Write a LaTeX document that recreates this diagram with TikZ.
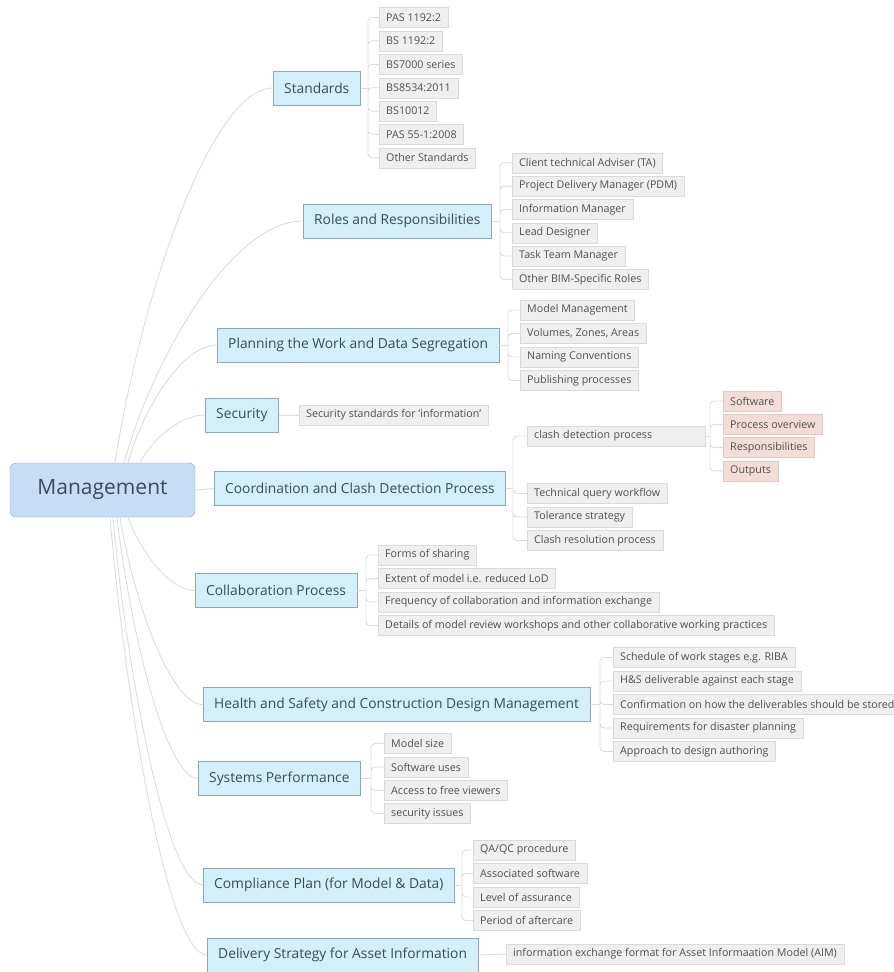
\documentclass[tikz,border=0pt]{standalone}
\usepackage{fontspec}
\setmainfont{Open Sans}
\definecolor{rootfill}{HTML}{C7DDF6}
\definecolor{rootline}{HTML}{8FA3C0}
\definecolor{branchfill}{HTML}{D3EFFA}
\definecolor{branchline}{HTML}{8FA7B5}
\definecolor{branchtext}{HTML}{3B4A5A}
\definecolor{leaffill}{HTML}{EFEFEF}
\definecolor{leafline}{HTML}{DADADA}
\definecolor{leaftext}{HTML}{505050}
\definecolor{pinkfill}{HTML}{F4DDD8}
\definecolor{pinkline}{HTML}{E3C8C2}
\definecolor{linkgray}{HTML}{DCDCDC}

\begin{document}
\begin{tikzpicture}[x=1pt,y=-1pt,
    link/.style={draw=linkgray, line width=0.9pt},
    rootbox/.style={draw=rootline, fill=rootfill, rounded corners=6pt, minimum width=185pt, minimum height=54pt, text=branchtext, font=\fontsize{21}{25}\selectfont},
    branchbox/.style={draw=branchline, fill=branchfill, anchor=west, minimum height=34pt, inner xsep=11pt, text=branchtext, font=\fontsize{13.8}{16}\selectfont},
    leafbox/.style={draw=leafline, fill=leaffill, anchor=west, minimum height=20pt, inner xsep=7pt, inner ysep=2pt, text=leaftext, font=\fontsize{10.7}{12}\selectfont},
    pinkbox/.style={leafbox, draw=pinkline, fill=pinkfill}]
    \useasboundingbox (0,0) rectangle (894,972);

    % root and main branches
    \node[rootbox] (mgmt) at (102.5,490) {Management};
    \node[branchbox] (std) at (273,88) {Standards};
    \node[branchbox] (roles) at (303,221) {Roles and Responsibilities};
    \node[branchbox] (plan) at (217,345) {Planning the Work and Data Segregation};
    \node[branchbox] (sec) at (205,415) {Security};
    \node[branchbox] (coord) at (214,488.5) {Coordination and Clash Detection Process};
    \node[branchbox] (collab) at (195,590.5) {Collaboration Process};
    \node[branchbox] (hs) at (203,704.5) {Health and Safety and Construction Design Management};
    \node[branchbox] (sys) at (198,778.5) {Systems Performance};
    \node[branchbox] (comp) at (203,885) {Compliance Plan (for Model \& Data)};
    \node[branchbox] (deliv) at (207,955) {Delivery Strategy for Asset Information};

    \draw[link] ([xshift=12.5pt]mgmt.north) .. controls +(25,-161) and +(-63,0) .. (std.west);
    \draw[link] ([xshift=21.5pt]mgmt.north) .. controls +(29,-104) and +(-72,0) .. (roles.west);
    \draw[link] ([xshift=25.5pt]mgmt.north) .. controls +(14,-51) and +(-36,0) .. (plan.west);
    \draw[link] ([xshift=37.5pt]mgmt.north) .. controls +(10,-21) and +(-26,0) .. (sec.west);
    \draw[link] (mgmt.east) -- (coord.west);
    \draw[link] ([xshift=25.5pt]mgmt.south) .. controls +(11,31) and +(-27,0) .. (collab.west);
    \draw[link] ([xshift=17.5pt]mgmt.south) .. controls +(13,81) and +(-33,0) .. (hs.west);
    \draw[link] ([xshift=14.5pt]mgmt.south) .. controls +(13,113) and +(-32,0) .. (sys.west);
    \draw[link] ([xshift=10.5pt]mgmt.south) .. controls +(14,158) and +(-36,0) .. (comp.west);
    \draw[link] ([xshift=7.5pt]mgmt.south) .. controls +(16,188) and +(-39,0) .. (deliv.west);

    % Standards
    \node[leafbox] (s1) at (379,17.5) {PAS 1192:2};
    \node[leafbox] (s2) at (379,40.9) {BS 1192:2};
    \node[leafbox] (s3) at (379,64.3) {BS7000 series};
    \node[leafbox] (s4) at (379,87.7) {BS8534:2011};
    \node[leafbox] (s5) at (379,111.1) {BS10012};
    \node[leafbox] (s6) at (379,134.5) {PAS 55-1:2008};
    \node[leafbox] (s7) at (379,157.9) {Other Standards};
    \coordinate (stdb) at (368,88);
    \draw[link] (std.east) -- (stdb);
    \draw[link, rounded corners=4pt] (stdb) |- (s1.west) (stdb) |- (s2.west) (stdb) |- (s3.west) (stdb) |- (s4.west)
        (stdb) |- (s5.west) (stdb) |- (s6.west) (stdb) |- (s7.west);

    % Roles and Responsibilities
    \node[leafbox] (r1) at (512,162.8) {Client technical Adviser (TA)};
    \node[leafbox] (r2) at (512,186.1) {Project Delivery Manager (PDM)};
    \node[leafbox] (r3) at (512,209.4) {Information Manager};
    \node[leafbox] (r4) at (512,232.7) {Lead Designer};
    \node[leafbox] (r5) at (512,256) {Task Team Manager};
    \node[leafbox] (r6) at (512,279.3) {Other BIM-Specific Roles};
    \coordinate (rolb) at (500,221);
    \draw[link] (roles.east) -- (rolb);
    \draw[link, rounded corners=4pt] (rolb) |- (r1.west) (rolb) |- (r2.west) (rolb) |- (r3.west)
        (rolb) |- (r4.west) (rolb) |- (r5.west) (rolb) |- (r6.west);

    % Planning the Work
    \node[leafbox] (p1) at (520,310) {Model Management};
    \node[leafbox] (p2) at (520,333.5) {Volumes, Zones, Areas};
    \node[leafbox] (p3) at (520,357) {Naming Conventions};
    \node[leafbox] (p4) at (520,380.5) {Publishing processes};
    \coordinate (plnb) at (508,345);
    \draw[link] (plan.east) -- (plnb);
    \draw[link, rounded corners=4pt] (plnb) |- (p1.west) (plnb) |- (p2.west) (plnb) |- (p3.west) (plnb) |- (p4.west);

    % Security
    \node[leafbox] (sc1) at (299,415) {Security standards for `information'};
    \draw[link] (sec.east) -- (sc1.west);

    % Coordination and Clash Detection
    \node[leafbox, text width=164pt, align=left] (c1) at (527,436) {clash detection process};
    \node[leafbox] (c2) at (527,493.5) {Technical query workflow};
    \node[leafbox] (c3) at (527,517) {Tolerance strategy};
    \node[leafbox] (c4) at (527,540.5) {Clash resolution process};
    \coordinate (coob) at (513,488.5);
    \draw[link] (coord.east) -- (coob);
    \draw[link, rounded corners=4pt] (coob) |- (c1.west) (coob) |- (c2.west) (coob) |- (c3.west) (coob) |- (c4.west);
    \node[pinkbox] (k1) at (723,401) {Software};
    \node[pinkbox] (k2) at (723,424.3) {Process overview};
    \node[pinkbox] (k3) at (723,447.6) {Responsibilities};
    \node[pinkbox] (k4) at (723,470.9) {Outputs};
    \coordinate (clab) at (710,436);
    \draw[link] (c1.east) -- (clab);
    \draw[link, rounded corners=4pt] (clab) |- (k1.west) (clab) |- (k2.west) (clab) |- (k3.west) (clab) |- (k4.west);

    % Collaboration Process
    \node[leafbox] (o1) at (378,555) {Forms of sharing};
    \node[leafbox] (o2) at (378,578.5) {Extent of model i.e. reduced LoD};
    \node[leafbox] (o3) at (378,602) {Frequency of collaboration and information exchange};
    \node[leafbox] (o4) at (378,625.5) {Details of model review workshops and other collaborative working practices};
    \coordinate (colb) at (366,590.5);
    \draw[link] (collab.east) -- (colb);
    \draw[link, rounded corners=4pt] (colb) |- (o1.west) (colb) |- (o2.west) (colb) |- (o3.west) (colb) |- (o4.west);

    % Health and Safety
    \node[leafbox] (h1) at (613,657.5) {Schedule of work stages e.g. RIBA};
    \node[leafbox] (h2) at (613,681) {H\&S deliverable against each stage};
    \node[leafbox] (h3) at (613,704.5) {Confirmation on how the deliverables should be stored};
    \node[leafbox] (h4) at (613,728) {Requirements for disaster planning};
    \node[leafbox] (h5) at (613,751.5) {Approach to design authoring};
    \coordinate (hsb) at (600,704.5);
    \draw[link] (hs.east) -- (hsb);
    \draw[link, rounded corners=4pt] (hsb) |- (h1.west) (hsb) |- (h2.west) (hsb) |- (h3.west) (hsb) |- (h4.west) (hsb) |- (h5.west);

    % Systems Performance
    \node[leafbox] (y1) at (384,743.5) {Model size};
    \node[leafbox] (y2) at (384,767) {Software uses};
    \node[leafbox] (y3) at (384,790.5) {Access to free viewers};
    \node[leafbox] (y4) at (384,813.5) {security issues};
    \coordinate (sysb) at (371,778.5);
    \draw[link] (sys.east) -- (sysb);
    \draw[link, rounded corners=4pt] (sysb) |- (y1.west) (sysb) |- (y2.west) (sysb) |- (y3.west) (sysb) |- (y4.west);

    % Compliance Plan
    \node[leafbox] (m1) at (473,850) {QA/QC procedure};
    \node[leafbox] (m2) at (473,873.5) {Associated software};
    \node[leafbox] (m3) at (473,897) {Level of assurance};
    \node[leafbox] (m4) at (473,920.5) {Period of aftercare};
    \coordinate (cmpb) at (462,885);
    \draw[link] (comp.east) -- (cmpb);
    \draw[link, rounded corners=4pt] (cmpb) |- (m1.west) (cmpb) |- (m2.west) (cmpb) |- (m3.west) (cmpb) |- (m4.west);

    % Delivery Strategy
    \node[leafbox] (d1) at (506,954) {information exchange format for Asset Informaation Model (AIM)};
    \draw[link] (deliv.east) -- (d1.west);
\end{tikzpicture}
\end{document}
